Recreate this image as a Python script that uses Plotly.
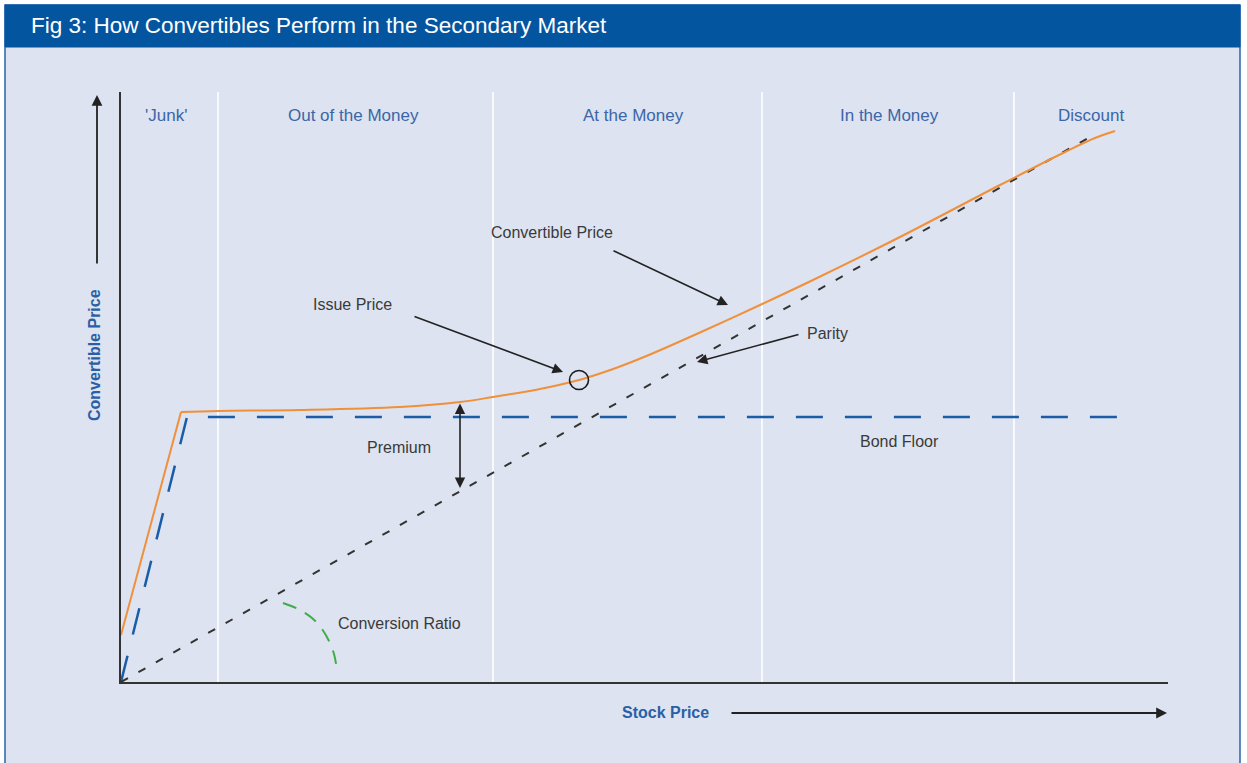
import plotly.graph_objects as go

# ---- data (stock price on x, convertible price on y, arbitrary units) ----
conv_x = [0, 6.0, 9.7, 17.9, 27.9, 33.9, 37.2, 41.9, 45.8, 47.9, 49.9, 52.9, 57.9,
          63.9, 69.2, 77.9, 87.9, 94.6, 97.4, 99.4]
conv_y = [4.7, 27.0, 27.1, 27.2, 27.5, 28.0, 28.5, 29.3, 30.2, 30.85, 31.55, 32.75, 34.95,
          37.7, 40.2, 44.5, 49.7, 53.1, 54.4, 55.1]

floor_x = [0, 6.6, 100.7]
floor_y = [0, 26.5, 26.5]

parity_x = [0, 96.9]
parity_y = [0, 54.5]

issue_x = [45.8]
issue_y = [30.2]

ratio_arc_x = [16.2, 17.7, 19.1, 20.1, 20.8, 21.3, 21.6]
ratio_arc_y = [7.9, 7.3, 6.4, 5.3, 4.1, 2.8, 1.2]

region_edges = [9.7, 37.2, 64.1, 89.3]
region_names = ["'Junk'", "Out of the Money", "At the Money", "In the Money", "Discount"]
region_centers = [4.5, 23.2, 51.2, 76.8, 97.0]

premium_x = 33.9
premium_top = 28.0
premium_bottom = 19.4

# ---- page geometry ----
W, H = 1247, 763
ML, MR, MT, MB = 121, 79, 92, 81
PW, PH = W - ML - MR, H - MT - MB

def px(xp):
    return (xp - ML) / PW

def py(yp):
    return (H - MB - yp) / PH

FONT = "Liberation Sans"
BLUE_BAR = "#0455a0"
PANEL = "#dde3f0"
REGION_BLUE = "#3b66a8"
TEXT_GREY = "#3a3a3a"
AXIS_BLUE = "#2a5fa6"

fig = go.Figure()

fig.add_trace(go.Scatter(x=floor_x, y=floor_y, mode="lines",
                         line=dict(color="#1a5ca6", width=2.5, dash="27px,22px"),
                         hoverinfo="skip"))
fig.add_trace(go.Scatter(x=parity_x, y=parity_y, mode="lines",
                         line=dict(color="#333333", width=2, dash="8px,12px"),
                         hoverinfo="skip"))
fig.add_trace(go.Scatter(x=ratio_arc_x, y=ratio_arc_y, mode="lines",
                         line=dict(color="#3fae4a", width=2, dash="14px,10px", shape="spline"),
                         hoverinfo="skip"))
# convertible price: straight rise through the junk region, smooth curve after the kink
fig.add_trace(go.Scatter(x=conv_x[:2], y=conv_y[:2], mode="lines",
                         line=dict(color="#f0903a", width=2),
                         hoverinfo="skip"))
fig.add_trace(go.Scatter(x=conv_x[1:], y=conv_y[1:], mode="lines",
                         line=dict(color="#f0903a", width=2, shape="spline", smoothing=1.0),
                         hoverinfo="skip"))
fig.add_trace(go.Scatter(x=issue_x, y=issue_y, mode="markers",
                         marker=dict(size=19, color="rgba(0,0,0,0)",
                                     line=dict(color="#1a1a1a", width=1.6)),
                         hoverinfo="skip"))

shapes = [
    # panel and title bar
    dict(type="rect", xref="paper", yref="paper", x0=px(5), x1=px(1240), y0=py(775), y1=py(5),
         fillcolor=PANEL, line=dict(color="#2a64ae", width=1.5), layer="below"),
    dict(type="rect", xref="paper", yref="paper", x0=px(5), x1=px(1240), y0=py(47), y1=py(5),
         fillcolor=BLUE_BAR, line=dict(color=BLUE_BAR, width=1), layer="below"),
]
for e in region_edges:
    shapes.append(dict(type="line", xref="x", yref="paper", x0=e, x1=e, y0=0, y1=1,
                       line=dict(color="white", width=1.6), layer="below"))

annotations = [
    dict(text="Fig 3: How Convertibles Perform in the Secondary Market",
         xref="paper", yref="paper", x=px(29), y=py(26), xanchor="left", yanchor="middle",
         showarrow=False, font=dict(color="white", size=22.5, family=FONT)),
]
for name, cx in zip(region_names, region_centers):
    annotations.append(dict(text=name, xref="x", yref="paper", x=cx, y=py(115),
                            xanchor="center", yanchor="middle", showarrow=False,
                            font=dict(color=REGION_BLUE, size=17, family=FONT)))

labels = [
    ("Convertible Price", 43.1, 45.0),
    ("Issue Price", 23.1, 37.8),
    ("Parity", 70.6, 34.9),
    ("Premium", 27.8, 23.5),
    ("Bond Floor", 77.8, 24.1),
    ("Conversion Ratio", 27.8, 5.9),
]
for t, lx, ly in labels:
    annotations.append(dict(text=t, x=lx, y=ly, xref="x", yref="y", showarrow=False,
                            xanchor="center", yanchor="middle",
                            font=dict(color=TEXT_GREY, size=16, family=FONT)))

pointers = [
    # (tail x, tail y, head x, head y)
    (49.1, 43.2, 60.7, 37.7),
    (29.2, 36.6, 44.2, 31.0),
    (67.9, 34.8, 57.6, 32.0),
]
for tx, ty, hx, hy in pointers:
    annotations.append(dict(text="", x=hx, y=hy, ax=tx, ay=ty, xref="x", yref="y",
                            axref="x", ayref="y", showarrow=True, arrowhead=2,
                            arrowsize=1.3, arrowwidth=1.6, arrowcolor="#222222"))

# premium double arrow
annotations.append(dict(text="", x=premium_x, y=premium_bottom, ax=premium_x, ay=premium_top,
                        xref="x", yref="y", axref="x", ayref="y", showarrow=True,
                        arrowhead=2, startarrowhead=2, arrowside="end+start",
                        arrowsize=1.3, startarrowsize=1.3, arrowwidth=1.6,
                        arrowcolor="#222222"))

# axis titles with direction arrows
annotations.append(dict(text="<b>Stock Price</b>", xref="paper", yref="paper",
                        x=px(665), y=py(712), showarrow=False, xanchor="center",
                        yanchor="middle",
                        font=dict(color=AXIS_BLUE, size=16, family=FONT)))
annotations.append(dict(text="", xref="paper", yref="paper", x=px(1167), y=py(713),
                        ax=-(1167 - 730), ay=0, showarrow=True, arrowhead=2,
                        arrowsize=1.2, arrowwidth=1.8, arrowcolor="#222222"))
annotations.append(dict(text="<b>Convertible Price</b>", xref="paper", yref="paper",
                        x=px(94), y=py(355), showarrow=False, textangle=-90,
                        xanchor="center", yanchor="middle",
                        font=dict(color=AXIS_BLUE, size=16, family=FONT)))
annotations.append(dict(text="", xref="paper", yref="paper", x=px(97), y=py(95),
                        ax=0, ay=265 - 95, showarrow=True, arrowhead=2,
                        arrowsize=1.2, arrowwidth=1.8, arrowcolor="#222222"))

axis_common = dict(showgrid=False, zeroline=False, showticklabels=False, ticks="",
                   showline=True, linecolor="#333333", linewidth=2, fixedrange=True)

fig.update_layout(
    width=W, height=H, autosize=False,
    margin=dict(l=ML, r=MR, t=MT, b=MB, pad=0),
    paper_bgcolor="white", plot_bgcolor="rgba(0,0,0,0)",
    showlegend=False,
    xaxis=dict(range=[0, PW / 10], **axis_common),
    yaxis=dict(range=[0, PH / 10], **axis_common),
    shapes=shapes, annotations=annotations,
    font=dict(family=FONT),
)

fig.write_html("out.html", config={"displayModeBar": False})
